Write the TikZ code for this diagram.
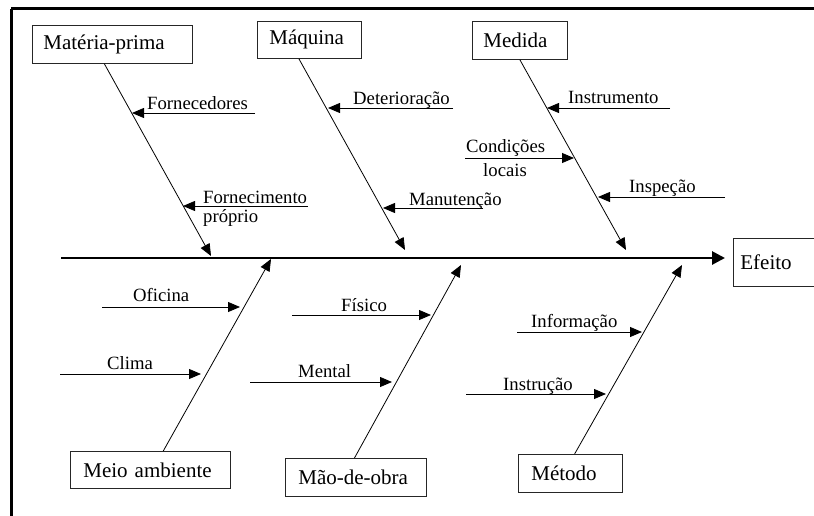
\documentclass[tikz,border=0pt]{standalone}
\usepackage{fontspec}
\setmainfont{Liberation Serif}
\usetikzlibrary{arrows.meta,calc}

\begin{document}
\begin{tikzpicture}[x=1pt,y=-1pt,
  cause/.style={draw=black!85, line width=0.8pt, rectangle, anchor=north west,
    inner ysep=0pt, align=left, font=\fontsize{21}{24}\selectfont},
  sublabel/.style={anchor=base west, inner sep=0pt, font=\fontsize{18.7}{21}\selectfont},
  bone/.style={line width=0.8pt, -{Triangle[length=12pt,width=10pt]}},
  twig/.style={line width=0.8pt, -{Triangle[length=12pt,width=10pt]}},
  spine/.style={line width=2.8pt, -{Triangle[length=13pt,width=13pt]}},
  frame/.style={line width=3pt}]

\useasboundingbox (0,0) rectangle (814,516);
\clip (0,0) rectangle (814,516);

% outer frame (top and left edges only)
\draw[frame] (11,9) -- (816,9);
\draw[frame] (11,9) -- (11,518);

% cause boxes
\node[cause, text width=138pt, inner xsep=11pt, minimum height=38pt] (mp)  at (32,25)  {Matéria-prima};
\node[cause, text width=80pt,  inner xsep=12pt, minimum height=37pt] (maq) at (257,21) {Máquina};
\node[cause, text width=73pt,  inner xsep=11pt, minimum height=38pt] (med) at (472,21) {Medida};
\node[cause, text width=134pt, inner xsep=13pt, minimum height=37pt] (mei) at (70,451) {Meio ambiente};
\node[cause, text width=115pt, inner xsep=13pt, minimum height=38pt] (mao) at (285,458) {Mão-de-obra};
\node[cause, text width=78pt,  inner xsep=13pt, minimum height=38pt] (met) at (518,454) {Método};
\node[cause, text width=76pt,  inner xsep=7pt,  minimum height=48pt] (eff) at (733,238) {Efeito};

% spine
\coordinate (tail) at (61,258);
\coordinate (head) at (725,258);
\draw[spine] (tail) -- (head);

% bone ends
\coordinate (mpS)  at ($(mp.south west)!0.45!(mp.south east)$);
\coordinate (maqS) at ($(maq.south west)!0.40!(maq.south east)$);
\coordinate (medS) at ($(med.south west)!0.50!(med.south east)$);
\coordinate (meiN) at ($(mei.north west)!0.58!(mei.north east)$);
\coordinate (maoN) at ($(mao.north west)!0.49!(mao.north east)$);
\coordinate (metN) at ($(met.north west)!0.54!(met.north east)$);

\coordinate (mpT)  at (211,256);
\coordinate (maqT) at (405,250);
\coordinate (medT) at (626,250);
\coordinate (meiT) at (271,259);
\coordinate (maoT) at (461,265);
\coordinate (metT) at (682,265);

\draw[bone] (mpS)  -- (mpT);
\draw[bone] (maqS) -- (maqT);
\draw[bone] (medS) -- (medT);
\draw[bone] (meiN) -- (meiT);
\draw[bone] (maoN) -- (maoT);
\draw[bone] (metN) -- (metT);

% secondary causes: free ends and points on the bones
\coordinate (fornA)  at (255,113);  \coordinate (fornB)  at (132,113);
\coordinate (fprA)   at (308,206);  \coordinate (fprB)   at (183,206);
\coordinate (detA)   at (453,108);  \coordinate (detB)   at (328,108);
\coordinate (manA)   at (483,208);  \coordinate (manB)   at (383,208);
\coordinate (insA)   at (670,108);  \coordinate (insB)   at (547,108);
\coordinate (condA)  at (465,158);  \coordinate (condB)  at (574,158);
\coordinate (inspA)  at (725,197);  \coordinate (inspB)  at (598,197);
\coordinate (ofiA)   at (102,307);  \coordinate (ofiB)   at (240,307);
\coordinate (cliA)   at (60,374);   \coordinate (cliB)   at (201,374);
\coordinate (fisA)   at (292,315);  \coordinate (fisB)   at (431,315);
\coordinate (menA)   at (250,382);  \coordinate (menB)   at (392,382);
\coordinate (infA)   at (517,332);  \coordinate (infB)   at (642,332);
\coordinate (instA)  at (466,394);  \coordinate (instB)  at (606,394);

\draw[twig] (fornA) -- (fornB);
\draw[twig] (fprA)  -- (fprB);
\draw[twig] (detA)  -- (detB);
\draw[twig] (manA)  -- (manB);
\draw[twig] (insA)  -- (insB);
\draw[twig] (condA) -- (condB);
\draw[twig] (inspA) -- (inspB);
\draw[twig] (ofiA)  -- (ofiB);
\draw[twig] (cliA)  -- (cliB);
\draw[twig] (fisA)  -- (fisB);
\draw[twig] (menA)  -- (menB);
\draw[twig] (infA)  -- (infB);
\draw[twig] (instA) -- (instB);

% secondary cause labels
\node[sublabel] (lforn) at (147,110) {Fornecedores};
\node[sublabel] (lfpr1) at (203,203) {Fornecimento};
\node[sublabel] (lfpr2) at (203,222) {próprio};
\node[sublabel] (ldet)  at (353,105) {Deterioração};
\node[sublabel] (lman)  at (409,205) {Manutenção};
\node[sublabel] (lins)  at (568,104) {Instrumento};
\node[sublabel] (lcon1) at (466,153) {Condições};
\node[sublabel] (lcon2) at (483,176) {locais};
\node[sublabel] (linsp) at (629,192) {Inspeção};
\node[sublabel] (lofi)  at (133,301) {Oficina};
\node[sublabel] (lcli)  at (107,369) {Clima};
\node[sublabel] (lfis)  at (341,311) {Físico};
\node[sublabel] (lmen)  at (298,377) {Mental};
\node[sublabel] (linf)  at (531,327) {Informação};
\node[sublabel] (linst) at (503,390) {Instrução};

\end{tikzpicture}
\end{document}
